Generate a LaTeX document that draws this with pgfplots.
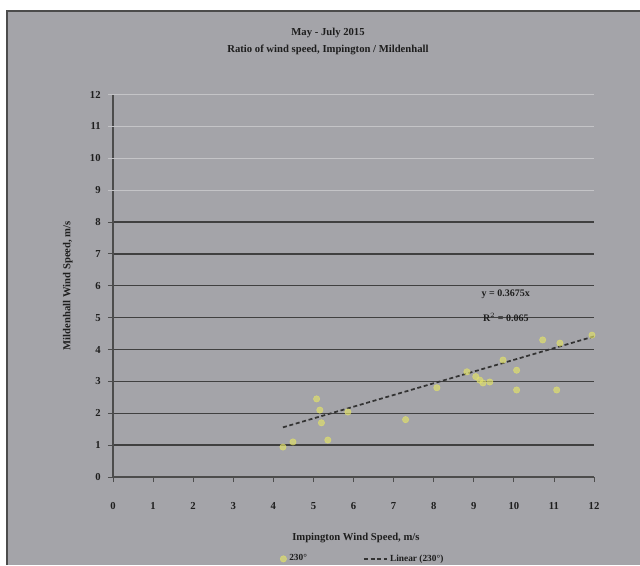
\documentclass[border=0pt]{standalone}
\usepackage{pgfplots}
\pgfplotsset{compat=1.18}
\usepackage{fontspec}
\setmainfont{Liberation Serif}
\definecolor{bg}{HTML}{A4A4A9}
\definecolor{ptc}{HTML}{E2E26A}
\definecolor{txt}{HTML}{1E1E1E}
\begin{document}
\begin{tikzpicture}[x=0.75pt,y=-0.75pt]
\useasboundingbox (0,0) rectangle (640,565);
\fill[white] (0,0) rectangle (640,565);
\fill[bg] (7,11) rectangle (640,565);
\draw[black!70, line width=1.2pt] (7,565) -- (7,11) -- (640,11);
\node[text=txt, font=\bfseries\fontsize{8}{9}\selectfont] at (328,33) {May - July 2015};
\node[text=txt, font=\bfseries\fontsize{8}{9}\selectfont] at (328,50) {Ratio of wind speed, Impington / Mildenhall};
\begin{axis}[
  at={(84.75pt,-357.75pt)}, anchor=south west,
  scale only axis, width=360.75pt, height=286.9pt,
  xmin=0, xmax=12, ymin=0, ymax=12,
  axis lines*=left,
  axis line style={black!70, line width=0.8pt},
  xtick={0,...,12}, ytick={0,...,8},
  extra y ticks={9,10,11,12},
  extra y tick style={grid style={color=white!35!bg, line width=0.7pt}, tick style={white!35!bg}},
  ymajorgrids,
  grid style={color=black!75, line width=1.0pt},
  tick align=outside,
  major tick length=3.75pt,
  tick style={black!70, line width=0.6pt},
  /pgf/number format/assume math mode=true,
  ticklabel style={text=txt, font=\bfseries\fontsize{8}{9}\selectfont},
  xticklabel style={yshift=-12pt},
  yticklabel style={xshift=-2pt},
  xlabel={Impington Wind Speed, m/s},
  ylabel={Mildenhall Wind Speed, m/s},
  label style={text=txt, font=\bfseries\fontsize{8}{9}\selectfont},
  xlabel style={at={(axis description cs:0.505,-0.16)}, anchor=center},
  ylabel style={at={(axis description cs:-0.094,0.5)}, anchor=center, rotate=0},
  legend style={at={(0.52,-0.214)}, anchor=center, draw=none, fill=none,
    text=txt, font=\bfseries\fontsize{7}{8}\selectfont, legend columns=2,
    /tikz/every even column/.append style={column sep=40pt}},
  legend cell align=left,
  clip=false,
]
\addplot[only marks, mark=*, mark size=2.4pt, draw=ptc, fill=ptc, opacity=0.65]
coordinates {
(4.24,0.94) (4.49,1.10) (5.16,2.10) (5.08,2.45) (5.20,1.70) (5.36,1.16)
(5.86,2.04) (7.30,1.80) (8.08,2.80) (8.83,3.30) (9.05,3.15) (9.15,3.04)
(9.23,2.95) (9.40,2.98) (9.73,3.67) (10.07,3.35) (10.07,2.73) (10.72,4.30)
(11.15,4.20) (11.95,4.45) (11.07,2.73)
};
\addlegendentry{230°}
\addplot[black!80, line width=1.3pt, dash pattern=on 3pt off 2pt]
coordinates {(4.24,1.558) (12,4.41)};
\addlegendentry{Linear (230°)}
\node[text=txt, font=\bfseries\fontsize{7.5}{8}\selectfont] at (axis cs:9.8,5.73) {y = 0.3675x};
\node[text=txt, font=\bfseries\fontsize{7.5}{8}\selectfont] at (axis cs:9.8,5.0) {R$^2$ = 0.065};
\end{axis}
\end{tikzpicture}
\end{document}
